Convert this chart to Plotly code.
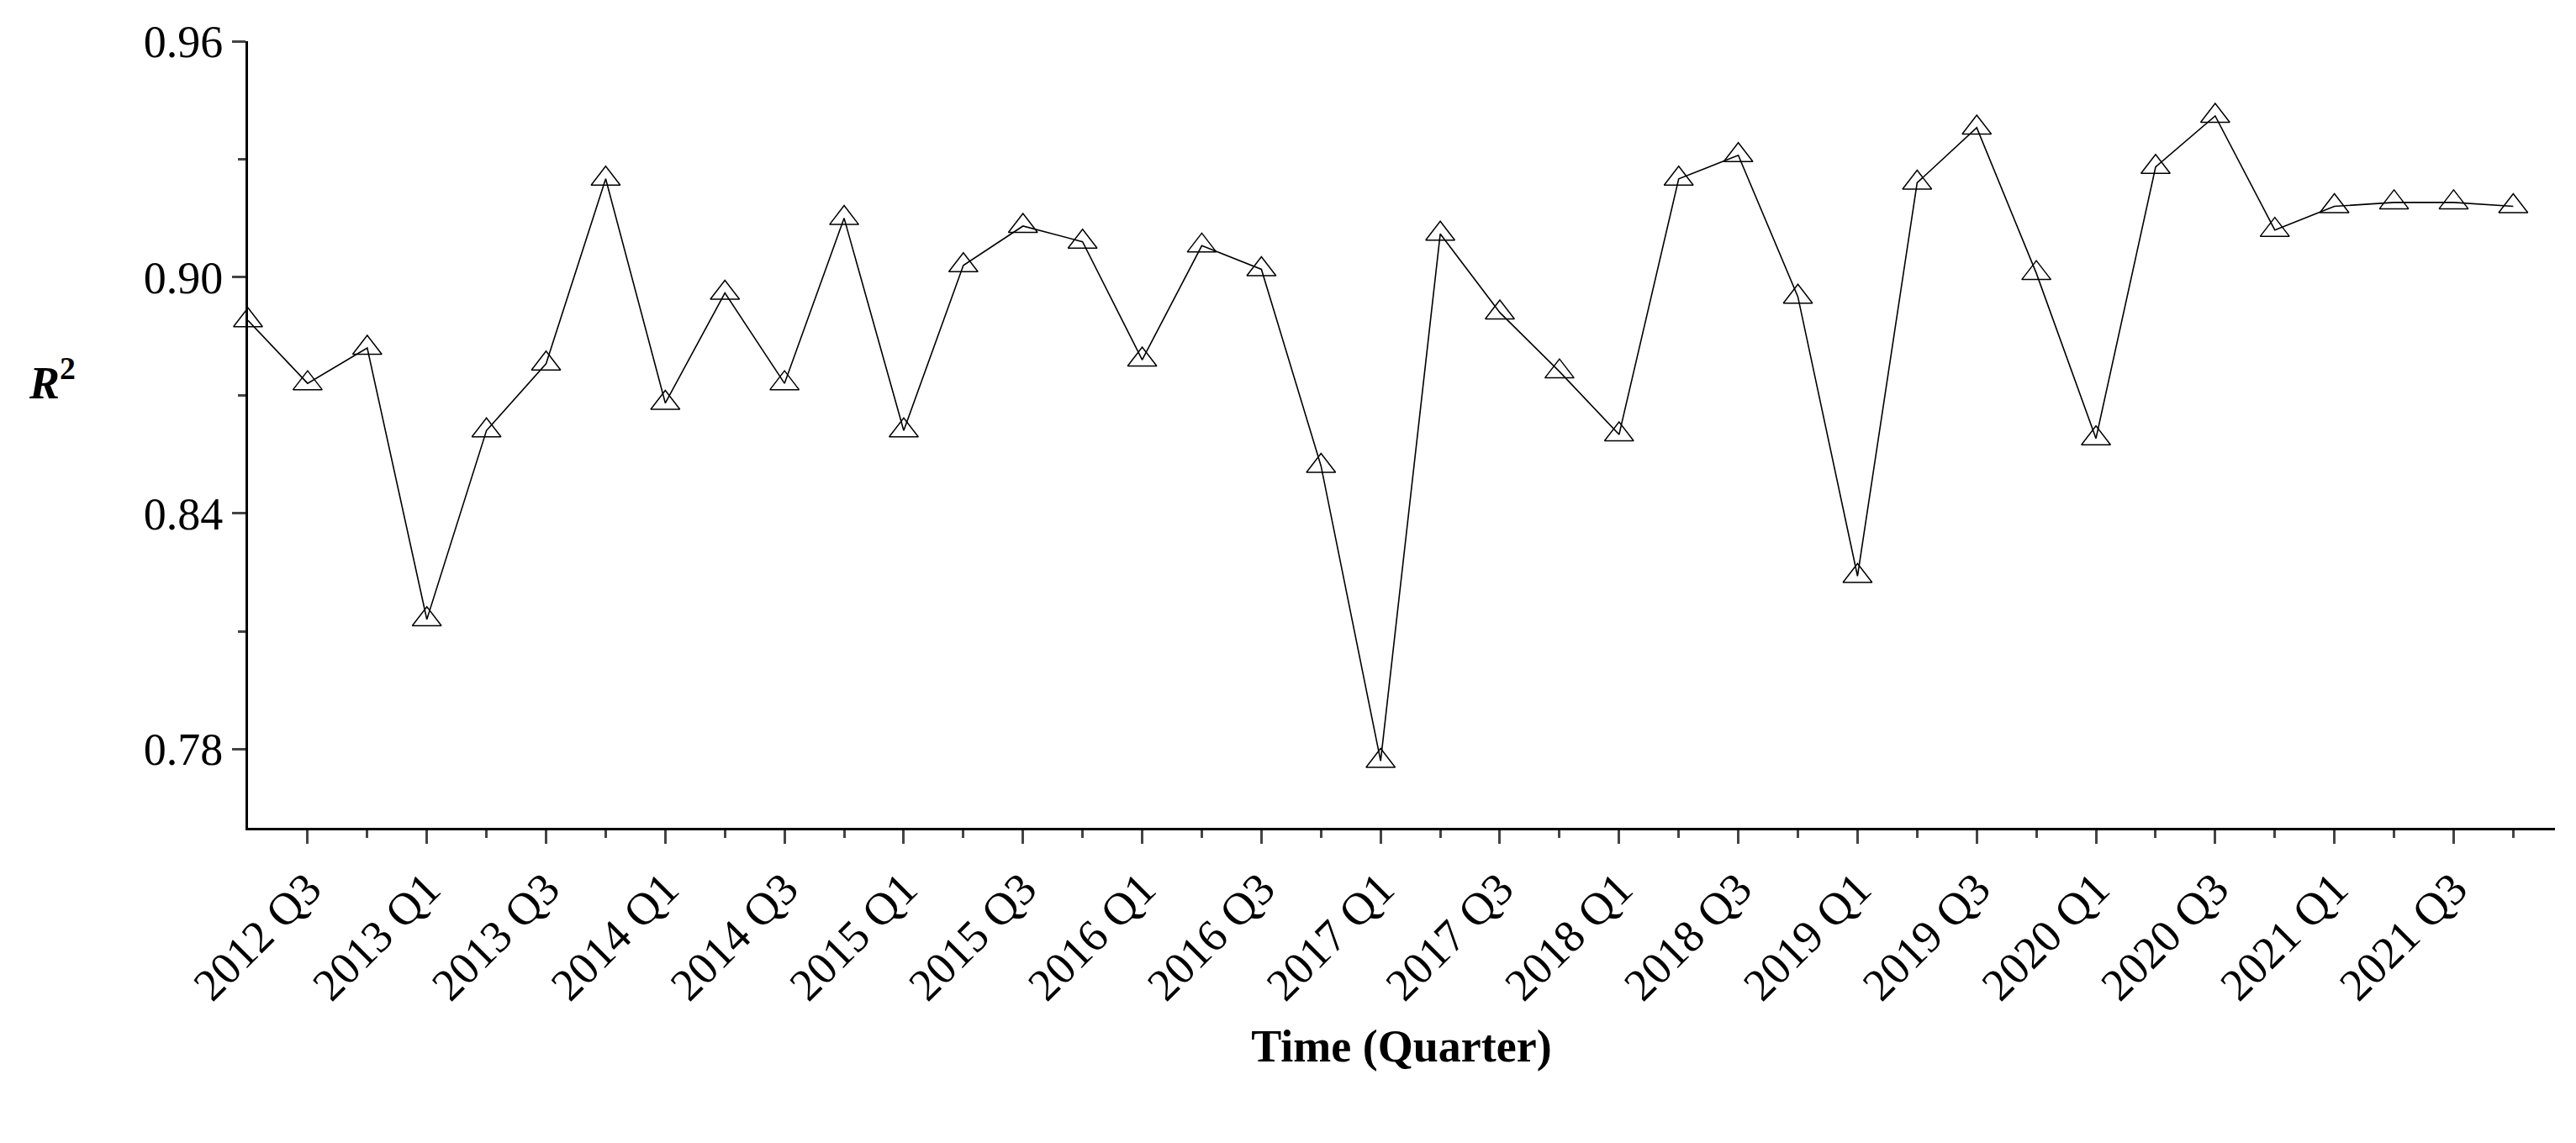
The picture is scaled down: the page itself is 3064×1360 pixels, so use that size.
import plotly.graph_objects as go

quarters = ["2012 Q2","2012 Q3","2012 Q4","2013 Q1","2013 Q2","2013 Q3","2013 Q4",
            "2014 Q1","2014 Q2","2014 Q3","2014 Q4","2015 Q1","2015 Q2","2015 Q3","2015 Q4",
            "2016 Q1","2016 Q2","2016 Q3","2016 Q4","2017 Q1","2017 Q2","2017 Q3","2017 Q4",
            "2018 Q1","2018 Q2","2018 Q3","2018 Q4","2019 Q1","2019 Q2","2019 Q3","2019 Q4",
            "2020 Q1","2020 Q2","2020 Q3","2020 Q4","2021 Q1","2021 Q2","2021 Q3","2021 Q4"]
r2 = [0.889,0.873,0.882,0.813,0.861,0.878,0.925,
      0.868,0.896,0.873,0.915,0.861,0.903,0.913,0.909,
      0.879,0.908,0.902,0.852,0.777,0.911,0.891,0.876,
      0.860,0.925,0.931,0.895,0.824,0.924,0.938,0.901,
      0.859,0.928,0.941,0.912,0.918,0.919,0.919,0.918]
y_ticks = [0.78, 0.84, 0.90, 0.96]

x = list(range(len(quarters)))
fig = go.Figure(go.Scatter(
    x=x, y=r2, mode="lines+markers",
    line=dict(color="black", width=1.6),
    marker=dict(symbol="triangle-up-open", size=30, color="black", line=dict(width=1.5)),
    cliponaxis=False))

font = "Liberation Serif, Times New Roman, serif"
fig.update_layout(
    width=3064, height=1360, plot_bgcolor="white", paper_bgcolor="white",
    margin=dict(l=287, r=33, t=36, b=383), showlegend=False,
    font=dict(family=font, color="black", size=54),
    xaxis=dict(range=[0, 38.7], tickvals=x[1::2], ticktext=quarters[1::2], tickangle=-45,
               showline=True, linecolor="black", linewidth=3, ticks="outside", ticklen=16,
               tickwidth=3, showgrid=False, zeroline=False,
               minor=dict(tickvals=x[2::2], ticks="outside", ticklen=9, tickwidth=3),
               title=dict(text="<b>Time (Quarter)</b>", font=dict(size=54), standoff=25)),
    yaxis=dict(range=[0.76, 0.96], tickvals=y_ticks, tickformat=".2f",
               showline=True, linecolor="black", linewidth=3, ticks="outside", ticklen=16,
               tickwidth=3, showgrid=False, zeroline=False,
               minor=dict(tickvals=[0.81, 0.87, 0.93], ticks="outside", ticklen=9, tickwidth=3)),
    annotations=[dict(text="<b><i>R</i><sup>2</sup></b>", xref="paper", yref="paper",
                      x=-0.085, y=0.57, showarrow=False, font=dict(size=54),
                      xanchor="center", yanchor="middle")],
)
fig.write_html("out.html")
